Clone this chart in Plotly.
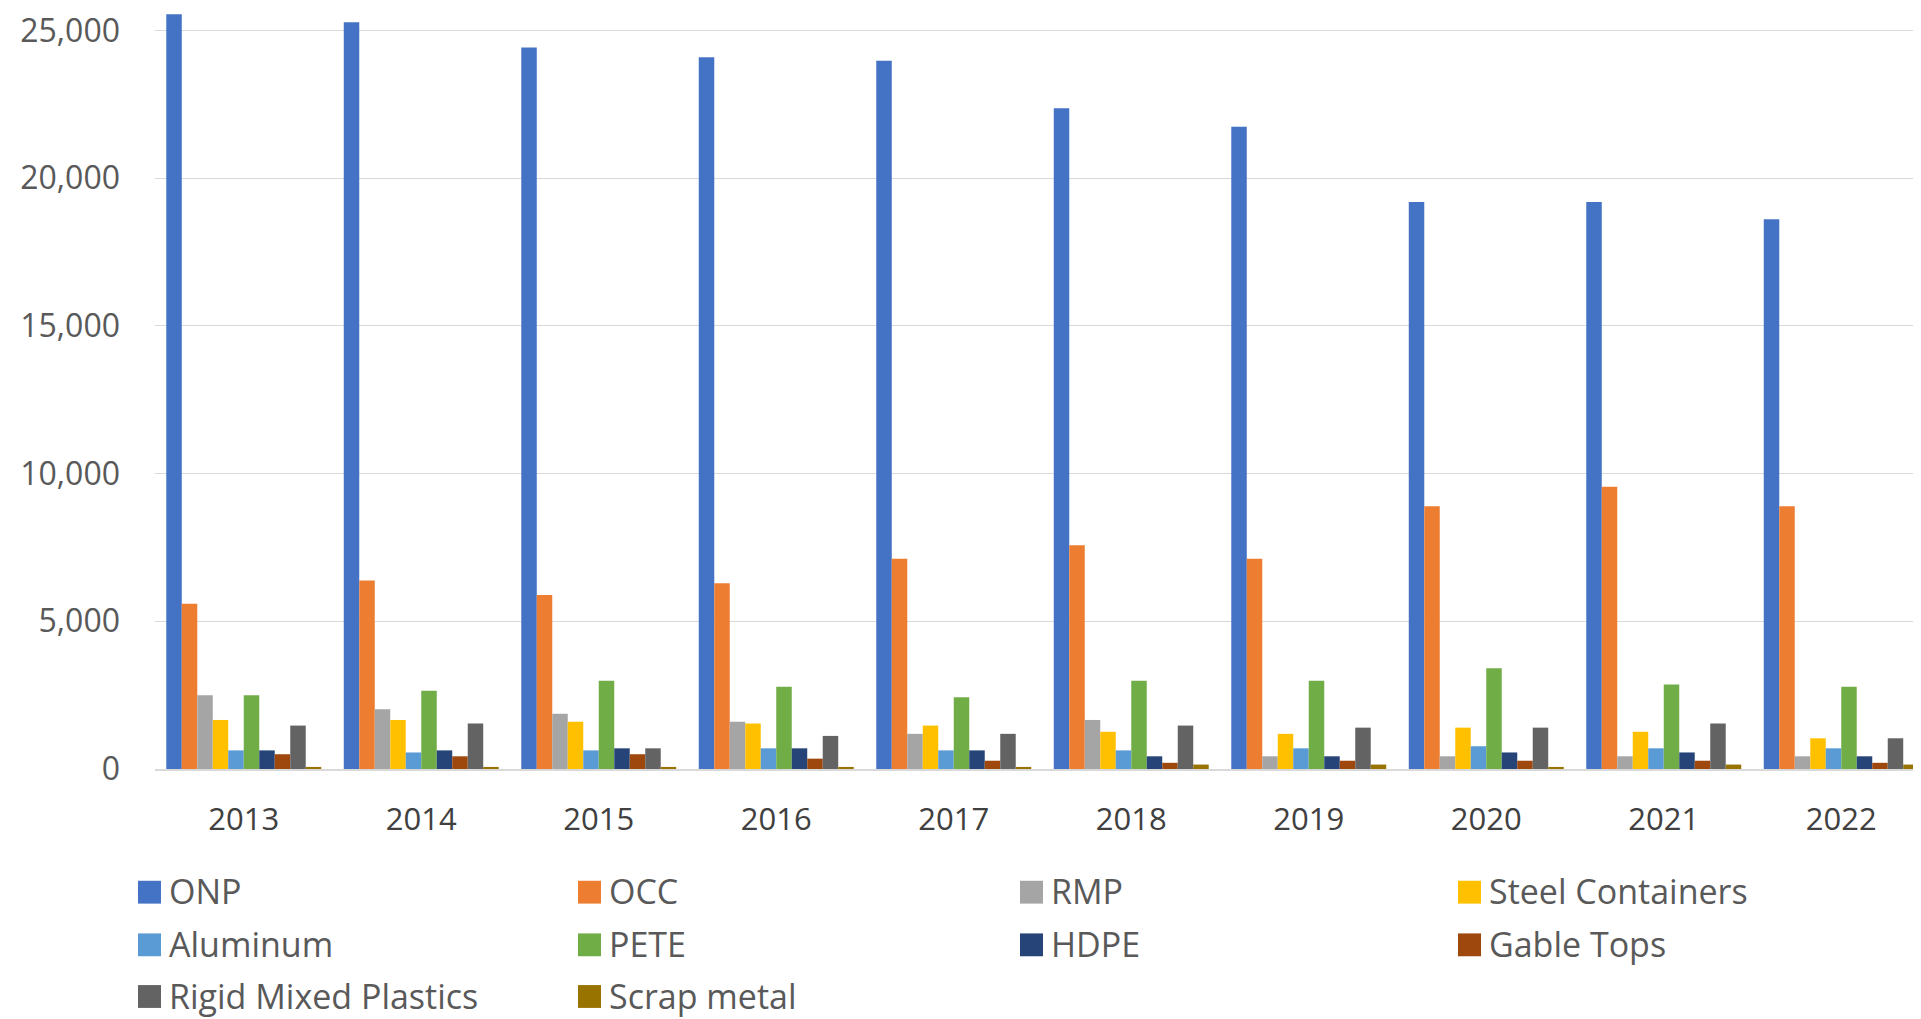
import plotly.graph_objects as go

years = ["2013", "2014", "2015", "2016", "2017", "2018", "2019", "2020", "2021", "2022"]

onp = [25550, 25280, 24420, 24090, 23970, 22370, 21740, 19190, 19190, 18610]
occ = [5590, 6380, 5890, 6290, 7120, 7570, 7120, 8890, 9550, 8890]
rmp = [2500, 2020, 1870, 1600, 1190, 1660, 430, 430, 430, 430]
steel_containers = [1660, 1660, 1600, 1540, 1470, 1260, 1190, 1400, 1260, 1040]
aluminum = [630, 560, 630, 700, 630, 630, 700, 770, 700, 700]
pete = [2500, 2650, 2990, 2780, 2430, 2990, 2990, 3410, 2860, 2780]
hdpe = [630, 630, 700, 700, 630, 430, 430, 560, 560, 430]
gable_tops = [500, 430, 500, 350, 280, 210, 280, 280, 280, 210]
rigid_mixed_plastics = [1470, 1540, 700, 1120, 1190, 1470, 1400, 1400, 1540, 1040]
scrap_metal = [70, 70, 70, 70, 70, 150, 150, 70, 150, 150]

series_names = ["ONP", "OCC", "RMP", "Steel Containers", "Aluminum", "PETE",
                "HDPE", "Gable Tops", "Rigid Mixed Plastics", "Scrap metal"]
series_values = [onp, occ, rmp, steel_containers, aluminum, pete,
                 hdpe, gable_tops, rigid_mixed_plastics, scrap_metal]
colors = ["#4472C4", "#ED7D31", "#A5A5A5", "#FFC000", "#5B9BD5", "#70AD47",
          "#264478", "#9E480E", "#636363", "#997300"]

y_ticks = [0, 5000, 10000, 15000, 20000, 25000]

# page body has an 8px margin: size the figure so it fills the window exactly
OFF = 8
W, H = 1921 - OFF, 1019 - OFF
ML, MR, MT, MB = 155 - OFF, 0, 0, 250
PW, PH = W - ML - MR, H - MT - MB
CAT_PX = 177.5
FONT = "'Open Sans', sans-serif"
TXT = "#595959"

fig = go.Figure()
for name, vals, col in zip(series_names, series_values, colors):
    fig.add_trace(go.Bar(name=name, x=years, y=vals, marker_color=col,
                         marker_line_width=0, showlegend=False))

x_end = PW / CAT_PX - 0.5

# Manual legend (Excel-style, 4 columns x 3 rows); positions in window pixels
col_x = [138, 578, 1020, 1458]
row_y = [893, 946, 998]
sq = 23
shapes = []
annotations = []
def px2paper_x(px):
    return (px - OFF - ML) / PW
def px2paper_y(py):
    return (MT + PH - (py - OFF)) / PH
for i, (name, col) in enumerate(zip(series_names, colors)):
    r, c = divmod(i, 4)
    x0 = col_x[c]
    yc = row_y[r]
    shapes.append(dict(type="rect", xref="paper", yref="paper",
                       x0=px2paper_x(x0), x1=px2paper_x(x0 + sq),
                       y0=px2paper_y(yc + sq / 2), y1=px2paper_y(yc - sq / 2),
                       fillcolor=col, line=dict(width=0)))
    annotations.append(dict(xref="paper", yref="paper",
                            x=px2paper_x(x0 + 30), y=px2paper_y(yc - 1),
                            text=name, showarrow=False, xanchor="left", yanchor="middle",
                            borderpad=0,
                            font=dict(family=FONT, size=34, color=TXT)))

fig.update_layout(
    width=W, height=H,
    margin=dict(l=ML, r=MR, t=MT, b=MB, pad=0),
    paper_bgcolor="white", plot_bgcolor="white",
    barmode="group", bargap=0.127, bargroupgap=0,
    font=dict(family=FONT, color=TXT),
    shapes=shapes, annotations=annotations,
    showlegend=False,
)
fig.update_xaxes(
    type="category", range=[-0.5, x_end],
    showgrid=False, showline=True, linecolor="#D9D9D9", linewidth=1.5,
    ticks="", tickfont=dict(family=FONT, size=31, color="#404040"),
    ticklabelstandoff=22, zeroline=False,
)
fig.update_yaxes(
    range=[0, 25590], tickvals=y_ticks, tickformat=",",
    showgrid=True, gridcolor="#D9D9D9", gridwidth=1,
    zeroline=False, showline=False, ticks="",
    tickfont=dict(family=FONT, size=32, color=TXT),
    ticklabelstandoff=34, ticklabeloverflow="allow",
)

fig.write_html("out.html")
